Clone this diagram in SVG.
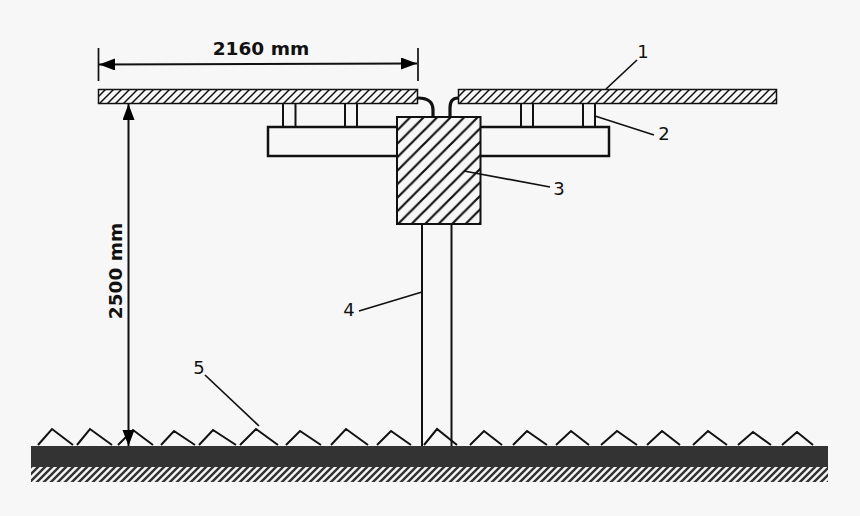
<svg xmlns="http://www.w3.org/2000/svg" width="860" height="516" viewBox="0 0 860 516">
<style>
.l{fill:none;stroke:#111;stroke-width:2}
.b{fill:none;stroke:#111;stroke-width:3.2}
.e{fill:none;stroke:#111;stroke-width:1.7}
.t{font-family:"DejaVu Sans",sans-serif;font-size:18px;fill:#111;text-anchor:middle}
.d{font-weight:bold;font-size:18.5px}
.a{fill:#000}
</style>
<defs>
<pattern id="h1" width="8" height="8" patternUnits="userSpaceOnUse" x="98" y="89"><path d="M-2 10L10-2M-2 2L2-2M6 10L10 6" stroke="#111" stroke-width="1.500" fill="none"/></pattern>
<pattern id="h2" width="13.500" height="13.500" patternUnits="userSpaceOnUse" x="397" y="117"><path d="M-2 15.500L15.500-2M-2 2L2-2M11.500 15.500L15.500 11.500" stroke="#111" stroke-width="2.200" fill="none"/></pattern>
<pattern id="h3" width="7" height="7" patternUnits="userSpaceOnUse" x="31" y="467"><path d="M-1 8L8-1M-1 1L1-1M6 8L8 6" stroke="#333" stroke-width="2.500" fill="none"/></pattern>
<marker id="m" markerWidth="17" markerHeight="13" refX="16" refY="6" orient="auto-start-reverse" markerUnits="userSpaceOnUse"><path class="a" d="M0 0L16 6L0 12z"/></marker>
</defs>
<rect width="860" height="516" fill="#f7f7f7"/>
<g id="ground">
<rect x="31" y="467" width="797" height="15" fill="url(#h3)"/>
<path class="l" d="M38 445L52 429L73 445M77 445L90 429L112 445M118 445L133 430L153 445M161 445L174 431L195 445M199 445L213 430L236 445M240 445L256 429L278 445M286 445L300 431L321 445M331 445L346 429L368 445M377 445L391 431L411 445M424 445L437 429L457 445M470 445L484 431L502 445M513 445L527 431L547 445M556 445L571 431L589 445M601 445L617 431L637 445M647 445L662 431L680 445M693 445L708 431L727 445M738 445L753 432L771 445M782 445L797 432L813 445"/>
<rect x="31" y="446" width="797" height="21" fill="#333"/>
</g>
<g id="post"><path class="l" d="M422 224V446M451.500 224V446"/></g>
<g id="panel-left"><rect x="98.500" y="89.500" width="319" height="14" fill="url(#h1)" stroke="#111" stroke-width="1.500"/></g>
<g id="panel-right"><rect x="458.500" y="89.500" width="318" height="14" fill="url(#h1)" stroke="#111" stroke-width="1.500"/></g>
<g id="supports"><path class="l" d="M283 103V127M295.500 103V127M345 103V127M357 103V127M521 103V127M533 103V127M583 103V127M595 103V127"/></g>
<g id="beam"><rect x="268" y="127" width="341" height="29" fill="none" stroke="#111" stroke-width="2.500"/></g>
<g id="box"><rect x="397" y="117" width="83.500" height="107" fill="#f7f7f7"/><rect x="397" y="117" width="83.500" height="107" fill="url(#h2)" stroke="#111" stroke-width="2"/></g>
<g id="connectors">
<path class="b" d="M418 98C427 98 433 101 433 110V117M458 98C452 98 450 102 450 108V117"/>
<path class="e" d="M606 89L637 60M595 116L654 135M464 171L550 187M422 292L359 311M205 375L259 426M98.500 48V81M418 48V81"/>
<path class="l" marker-start="url(#m)" marker-end="url(#m)" d="M99 64.500L417 63.500"/>
<path class="l" marker-start="url(#m)" marker-end="url(#m)" d="M128.500 104V446"/>
</g>
<g id="labels">
<text class="t d" x="261" y="54.500">2160 mm</text>
<text class="t d" transform="translate(121.500 271) rotate(-90)">2500 mm</text>
<text class="t" x="643" y="58">1</text>
<text class="t" x="664" y="140">2</text>
<text class="t" x="559" y="195">3</text>
<text class="t" x="349" y="316">4</text>
<text class="t" x="199" y="374">5</text>
</g>
</svg>
